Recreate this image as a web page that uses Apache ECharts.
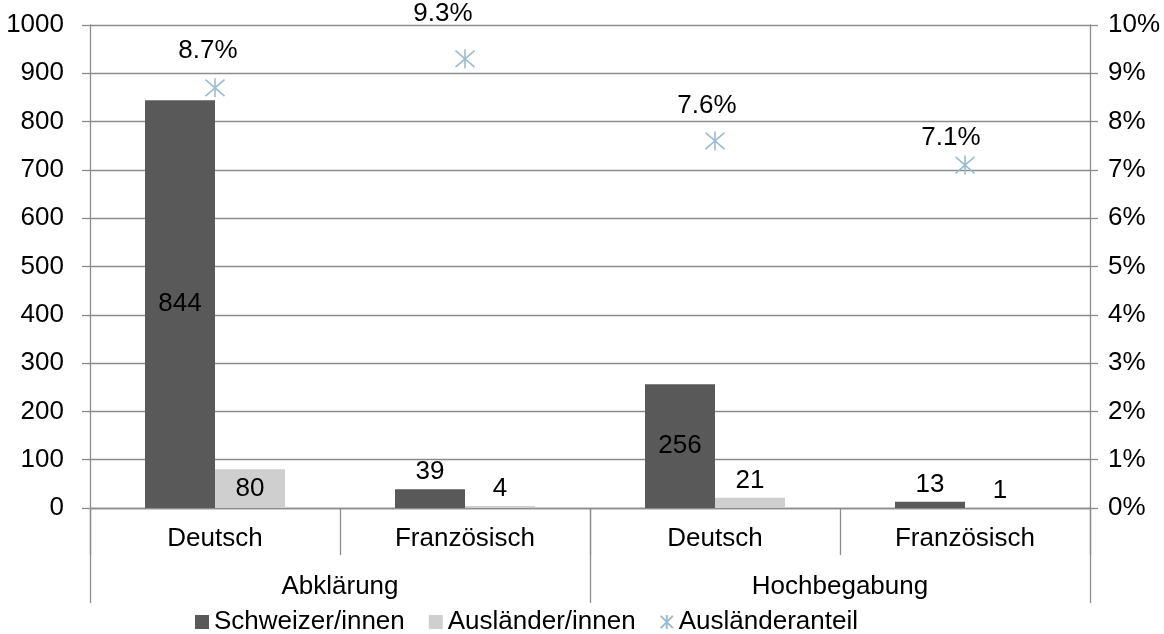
<!DOCTYPE html>
<html>
<head>
<meta charset="utf-8">
<script src="https://cdn.jsdelivr.net/npm/echarts@6/dist/echarts.min.js"></script>
<style>
  html, body { margin: 0; padding: 0; background: #fff; }
  #chart { width: 1164px; height: 634px; }
</style>
</head>
<body>
<div id="chart"></div>
<script>
// Sprachregion (untere Ebene) und Bereich (obere Ebene)
const languages = ['Deutsch', 'Französisch', 'Deutsch', 'Französisch'];
const areas = ['Abklärung', 'Hochbegabung'];

// Anzahl Personen
const schweizer = [844, 39, 256, 13];
const auslaender = [80, 4, 21, 1];

// Ausländeranteil (Anteil 0..1)
const anteil = [0.087, 0.093, 0.076, 0.071];

// Achsenbeschriftung
const countTicks = { min: 0, max: 1000, interval: 100 };
const shareTicks = { min: 0, max: 0.1, interval: 0.01 };

// Verschiebung der Prozentbeschriftungen über den Sternen (px)
const shareLabelShift = [[-7, -14], [-22, -22], [-8, -12], [-14, -4]];

const FONT = '"Liberation Sans", Arial, sans-serif';
const FS = 26;
const GRID_COLOR = '#8c8c8c';
const STAR = 'path://M-1,-1L1,1M-1,1L1,-1M0,-1.15L0,1.15';

function barLabel(v) {
  // große Säulen: Wert in der Säule, kleine: darüber
  return { value: v, label: { position: v >= 60 ? 'inside' : 'top' } };
}

const chart = echarts.init(document.getElementById('chart'));

chart.setOption({
  animation: false,
  backgroundColor: '#ffffff',
  textStyle: { fontFamily: FONT },
  grid: { left: 90, right: 74, top: 25, bottom: 126, containLabel: false },
  legend: {
    left: 190,
    top: 604,
    itemGap: 24,
    itemWidth: 14,
    itemHeight: 14,
    textStyle: { fontSize: FS, color: '#000', fontFamily: FONT },
    data: [
      { name: 'Schweizer/innen', icon: 'rect' },
      { name: 'Ausländer/innen', icon: 'rect' },
      { name: 'Ausländeranteil' }
    ]
  },
  xAxis: [
    {
      type: 'category',
      position: 'bottom',
      data: languages,
      axisLine: { onZero: false, lineStyle: { color: GRID_COLOR, width: 1.3 } },
      axisTick: { show: true, interval: 0, length: 47, alignWithLabel: false,
                  lineStyle: { color: GRID_COLOR, width: 1.3 } },
      axisLabel: { interval: 0, margin: 18, fontSize: FS, color: '#000', fontFamily: FONT }
    },
    {
      type: 'category',
      position: 'bottom',
      data: areas,
      axisLine: { show: false },
      axisTick: { show: true, interval: 0, length: 95, alignWithLabel: false,
                  lineStyle: { color: GRID_COLOR, width: 1.3 } },
      axisLabel: { interval: 0, margin: 66, fontSize: FS, color: '#000', fontFamily: FONT }
    }
  ],
  yAxis: [
    {
      type: 'value',
      min: countTicks.min,
      max: countTicks.max,
      interval: countTicks.interval,
      axisLine: { show: true, lineStyle: { color: GRID_COLOR, width: 1.3 } },
      axisTick: { show: true, length: 8, lineStyle: { color: GRID_COLOR, width: 1.3 } },
      splitLine: { show: true, lineStyle: { color: GRID_COLOR, width: 1.3 } },
      axisLabel: { margin: 26, fontSize: FS, color: '#000', fontFamily: FONT,
                   formatter: v => String(v) }
    },
    {
      type: 'value',
      position: 'right',
      min: shareTicks.min,
      max: shareTicks.max,
      interval: shareTicks.interval,
      axisLine: { show: true, lineStyle: { color: GRID_COLOR, width: 1.3 } },
      axisTick: { show: true, length: 8, lineStyle: { color: GRID_COLOR, width: 1.3 } },
      splitLine: { show: false },
      axisLabel: {
        margin: 18, fontSize: FS, color: '#000', fontFamily: FONT,
        formatter: v => Math.round(v * 100) + '%'
      }
    }
  ],
  series: [
    {
      name: 'Schweizer/innen',
      type: 'bar',
      xAxisIndex: 0,
      yAxisIndex: 0,
      barWidth: 70,
      barGap: '0%',
      itemStyle: { color: '#595959' },
      label: { show: true, fontSize: FS, color: '#000', fontFamily: FONT, distance: 4 },
      data: schweizer.map(barLabel)
    },
    {
      name: 'Ausländer/innen',
      type: 'bar',
      xAxisIndex: 0,
      yAxisIndex: 0,
      barWidth: 70,
      barGap: '0%',
      itemStyle: { color: '#cfcfcf' },
      label: { show: true, fontSize: FS, color: '#000', fontFamily: FONT, distance: 4 },
      data: auslaender.map(barLabel)
    },
    {
      name: 'Ausländeranteil',
      type: 'scatter',
      xAxisIndex: 0,
      yAxisIndex: 1,
      symbol: STAR,
      symbolSize: 19,
      itemStyle: { color: '#9bbccd', borderColor: '#9bbccd', borderWidth: 1.6, opacity: 1 },
      label: {
        show: true,
        position: 'top',
        distance: 0,
        fontSize: FS,
        color: '#000',
        fontFamily: FONT,
        formatter: p => (p.value * 100).toFixed(1) + '%'
      },
      data: anteil.map((v, i) => ({
        value: v,
        label: { color: '#000', offset: shareLabelShift[i] }
      }))
    }
  ]
});
</script>
</body>
</html>
